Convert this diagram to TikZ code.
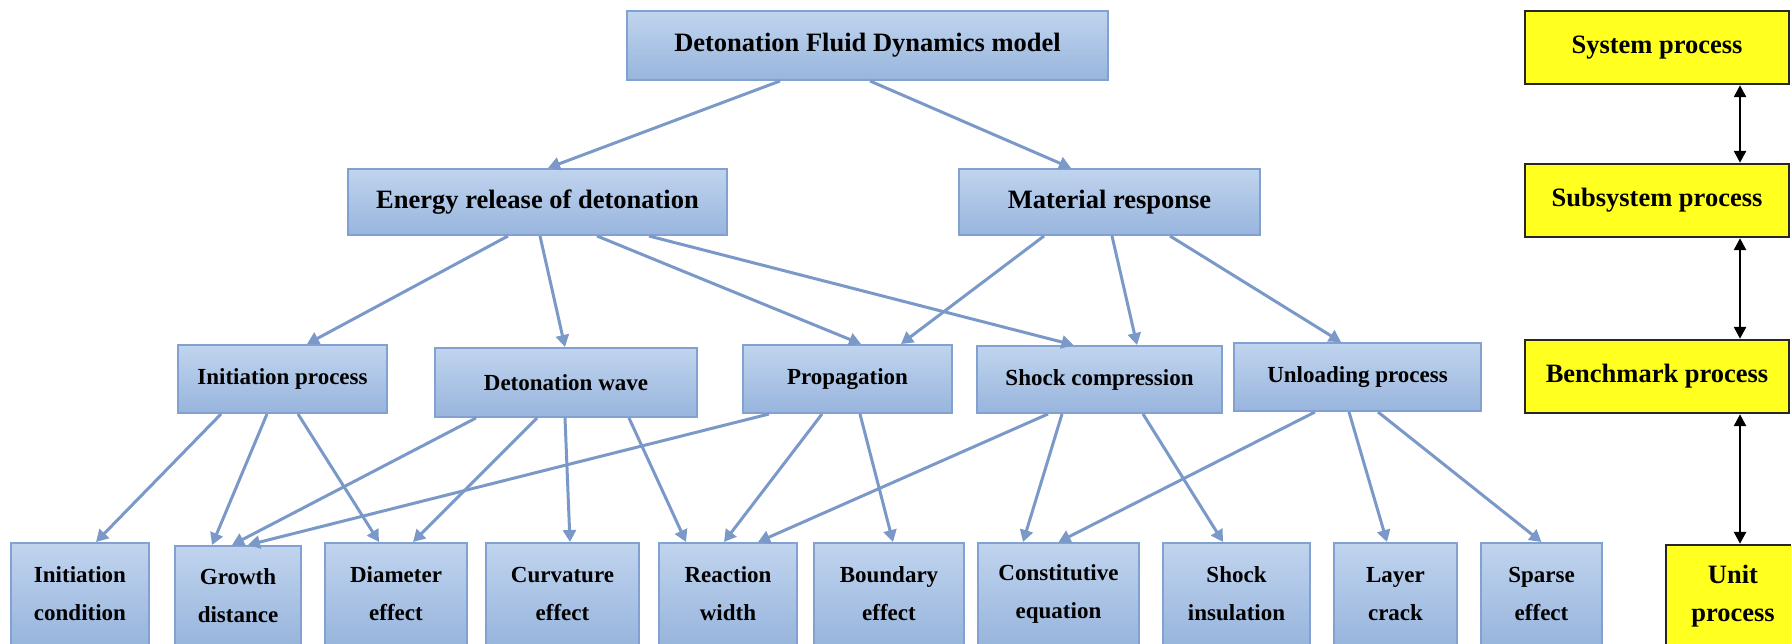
\documentclass[tikz,border=0pt]{standalone}
\usepackage{fontspec}
\setmainfont{Liberation Serif}
\usetikzlibrary{arrows.meta}
\definecolor{boxtop}{RGB}{192,212,238}
\definecolor{boxbot}{RGB}{152,181,221}
\definecolor{boxline}{RGB}{130,161,208}
\definecolor{linkcol}{RGB}{122,153,201}
\definecolor{procyellow}{RGB}{255,255,32}
\tikzset{
  modelbox/.style={draw=boxline, line width=1pt, top color=boxtop, bottom color=boxbot,
    inner sep=0pt, align=center, font=\bfseries\fontsize{13.25}{16}\selectfont},
  subbox/.style={modelbox, font=\bfseries\fontsize{11.5}{19}\selectfont},
  leafbox/.style={modelbox, font=\bfseries\fontsize{11.5}{19}\selectfont, minimum height=51pt},
  levelbox/.style={draw=black!85, line width=1.2pt, fill=procyellow, inner sep=0pt, align=center,
    font=\bfseries\fontsize{13.25}{19}\selectfont},
  link/.style={draw=linkcol, line width=1.5pt, -{Triangle[length=6pt,width=6.5pt]}},
  twoway/.style={draw=black, line width=1.3pt, {Triangle[length=6pt,width=6pt]}-{Triangle[length=6pt,width=6pt]}}
}
\begin{document}
\begin{tikzpicture}[x=0.5pt,y=-0.5pt]
\useasboundingbox (0,0) rectangle (1791,643);
\begin{scope}
\clip (0,0) rectangle (1791,643);

% model hierarchy
\node[modelbox, minimum width=240.5pt, minimum height=34.5pt] (top) at (867.5,45.5) {Detonation Fluid Dynamics model};
\node[modelbox, minimum width=189.5pt, minimum height=33pt] (energy) at (537.5,202) {Energy release of detonation};
\node[modelbox, minimum width=150.5pt, minimum height=33pt] (material) at (1109.5,202) {Material response};

\node[subbox, minimum width=104.5pt, minimum height=34pt] (initp) at (282.5,379) {Initiation process};
\node[subbox, minimum width=131pt, minimum height=34.5pt] (detw) at (566,382.5) {Detonation wave};
\node[subbox, minimum width=104.5pt, minimum height=34pt] (prop) at (847.5,379) {Propagation};
\node[subbox, minimum width=122.5pt, minimum height=33.5pt] (shock) at (1099.5,379.5) {Shock compression};
\node[subbox, minimum width=123.5pt, minimum height=34pt] (unload) at (1357.5,377) {Unloading process};

\node[leafbox, minimum width=69pt] (ic) at (80,594) {Initiation\\condition};
\node[leafbox, minimum width=63pt, minimum height=49.5pt] (gd) at (238,595.5) {Growth\\distance};
\node[leafbox, minimum width=71pt] (de) at (396,594) {Diameter\\effect};
\node[leafbox, minimum width=76.5pt] (ce) at (562.5,594) {Curvature\\effect};
\node[leafbox, minimum width=69pt] (rw) at (728,594) {Reaction\\width};
\node[leafbox, minimum width=75pt] (be) at (889,594) {Boundary\\effect};
\node[leafbox, minimum width=80.5pt] (ceq) at (1058.5,594) {Constitutive\\equation};
\node[leafbox, minimum width=73.5pt] (si) at (1236.5,594) {Shock\\insulation};
\node[leafbox, minimum width=61.5pt] (lc) at (1395.5,594) {Layer\\crack};
\node[leafbox, minimum width=60.5pt] (se) at (1541.5,594) {Sparse\\effect};

% process levels
\node[levelbox, minimum width=132pt, minimum height=36.5pt] (sys) at (1657,47.5) {System process};
\node[levelbox, minimum width=132pt, minimum height=36.5pt] (sub) at (1657,200.5) {Subsystem process};
\node[levelbox, minimum width=132pt, minimum height=36.5pt] (bench) at (1657,376.5) {Benchmark process};
\node[levelbox, minimum width=67pt, minimum height=51pt] (unit) at (1733,596) {Unit\\process};

% links of the hierarchy
\draw[link] ([xshift=-43.75pt]top.south) -- ([xshift=5.25pt]energy.north);
\draw[link] ([xshift=1.25pt]top.south) -- ([xshift=-19.25pt]material.north);

\draw[link] ([xshift=-14.75pt]energy.south) -- ([xshift=12.25pt]initp.north);
\draw[link] ([xshift=1.25pt]energy.south) -- ([xshift=-0.5pt]detw.north);
\draw[link] ([xshift=29.75pt]energy.south) -- ([xshift=6.75pt]prop.north);
\draw[link] ([xshift=55.75pt]energy.south) -- ([xshift=-13pt]shock.north);

\draw[link] ([xshift=-32.75pt]material.south) -- ([xshift=26.75pt]prop.north);
\draw[link] ([xshift=1.25pt]material.south) -- ([xshift=18.75pt]shock.north);
\draw[link] ([xshift=30.25pt]material.south) -- ([xshift=-8.25pt]unload.north);

\draw[link] ([xshift=-30.75pt]initp.south) -- ([xshift=8pt]ic.north);
\draw[link] ([xshift=-7.75pt]initp.south) -- ([xshift=-13pt]gd.north);
\draw[link] ([xshift=7.75pt]initp.south) -- ([xshift=-8.5pt]de.north);

\draw[link] ([xshift=-45pt]detw.south) -- ([xshift=-3pt]gd.north);
\draw[link] ([xshift=-14.5pt]detw.south) -- ([xshift=8.5pt]de.north);
\draw[link] ([xshift=-0.5pt]detw.south) -- ([xshift=3.75pt]ce.north);
\draw[link] ([xshift=31.5pt]detw.south) -- ([xshift=-21pt]rw.north);

\draw[link] ([xshift=-39.25pt]prop.south) -- ([xshift=5pt]gd.north);
\draw[link] ([xshift=-12.75pt]prop.south) -- ([xshift=-2pt]rw.north);
\draw[link] ([xshift=6.25pt]prop.south) -- ([xshift=2pt]be.north);

\draw[link] ([xshift=-25.75pt]shock.south) -- ([xshift=15pt]rw.north);
\draw[link] ([xshift=-18.75pt]shock.south) -- ([xshift=-17.75pt]ceq.north);
\draw[link] ([xshift=21.75pt]shock.south) -- ([xshift=-6.75pt]si.north);

\draw[link] ([xshift=-21.25pt]unload.south) -- (ceq.north);
\draw[link] ([xshift=-4.25pt]unload.south) -- ([xshift=-4.25pt]lc.north);
\draw[link] ([xshift=10.25pt]unload.south) -- (se.north);

% links between process levels
\draw[twoway] ([xshift=41.5pt]sys.south) -- ([xshift=41.5pt]sub.north);
\draw[twoway] ([xshift=41.5pt]sub.south) -- ([xshift=41.5pt]bench.north);
\draw[twoway] ([xshift=41.5pt]bench.south) -- ([xshift=3.5pt]unit.north);
\end{scope}
\end{tikzpicture}
\end{document}
